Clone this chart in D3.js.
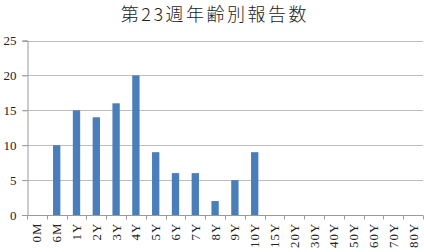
<!DOCTYPE html>
<html>
<head>
<meta charset="utf-8">
<script src="https://cdn.jsdelivr.net/npm/d3@7"></script>
<style>
  body { margin: 0; background: #fff; }
  svg { display: block; }
</style>
</head>
<body>
<div id="chart"></div>
<script>
var title = "第23週年齢別報告数";
var ages = ["0M", "6M", "1Y", "2Y", "3Y", "4Y", "5Y", "6Y", "7Y", "8Y", "9Y", "10Y",
            "15Y", "20Y", "30Y", "40Y", "50Y", "60Y", "70Y", "80Y"];
var reports = [0, 10, 15, 14, 16, 20, 9, 6, 6, 2, 5, 9, 0, 0, 0, 0, 0, 0, 0, 0];
var yTicks = [0, 5, 10, 15, 20, 25];

var width = 424, height = 252;
var m = { top: 40.5, right: 1, bottom: 37, left: 27 };
var serif = "'Liberation Serif', 'DejaVu Serif', serif";

var svg = d3.select("#chart").append("svg")
  .attr("width", width)
  .attr("height", height);

var x = d3.scaleBand()
  .domain(ages)
  .range([m.left, width - m.right])
  .paddingInner(0.63)
  .paddingOuter(0.315);

var y = d3.scaleLinear()
  .domain([0, 25])
  .range([height - m.bottom, m.top]);

// title
svg.append("text")
  .attr("x", 215)
  .attr("y", 21)
  .attr("text-anchor", "middle")
  .style("font-family", "'Noto Sans CJK JP', sans-serif")
  .style("font-size", "18px")
  .style("font-weight", "300")
  .style("letter-spacing", "2.5px")
  .style("fill", "#222")
  .text(title);

// gridlines
svg.append("g")
  .selectAll("line")
  .data(yTicks.filter(function(d) { return d > 0; }))
  .enter().append("line")
  .attr("x1", m.left - 5)
  .attr("x2", width - m.right)
  .attr("y1", function(d) { return Math.round(y(d)) + 0.5; })
  .attr("y2", function(d) { return Math.round(y(d)) + 0.5; })
  .style("stroke", "#bdbdbd")
  .style("stroke-width", 1);

// bars
svg.append("g")
  .selectAll("rect")
  .data(ages)
  .enter().append("rect")
  .attr("x", function(d) { return x(d); })
  .attr("y", function(d, i) { return y(reports[i]); })
  .attr("width", x.bandwidth())
  .attr("height", function(d, i) { return y(0) - y(reports[i]); })
  .style("fill", "#4a7ebb");

// y axis
var yAxis = svg.append("g")
  .attr("transform", "translate(" + (m.left + 0.5) + ",0)")
  .call(d3.axisLeft(y).tickValues(yTicks).tickSize(5).tickPadding(6));
yAxis.attr("font-family", null).attr("font-size", null);
yAxis.select(".domain").attr("stroke", "#9a9a9a");
yAxis.selectAll(".tick line").attr("stroke", "#9a9a9a");
yAxis.selectAll("text")
  .style("font-family", serif)
  .style("font-size", "13px")
  .style("fill", "#222");

// x axis: ticks between categories
var xg = svg.append("g")
  .attr("transform", "translate(0," + (Math.round(y(0)) + 0.5) + ")");
xg.append("line")
  .attr("x1", m.left - 5)
  .attr("x2", width - m.right)
  .style("stroke", "#9a9a9a");
var step = x.step();
xg.selectAll(".sep")
  .data(d3.range(ages.length + 1))
  .enter().append("line")
  .attr("class", "sep")
  .attr("x1", function(i) { return Math.round(m.left + i * step) + 0.5; })
  .attr("x2", function(i) { return Math.round(m.left + i * step) + 0.5; })
  .attr("y1", 0)
  .attr("y2", 4)
  .style("stroke", "#9a9a9a");
xg.selectAll(".lbl")
  .data(ages)
  .enter().append("text")
  .attr("class", "lbl")
  .attr("transform", function(d) {
    return "translate(" + (x(d) + x.bandwidth() / 2 + 4.5) + ",7) rotate(-90)";
  })
  .attr("text-anchor", "end")
  .style("font-family", serif)
  .style("font-size", "13px")
  .style("letter-spacing", "1px")
  .style("fill", "#222")
  .text(function(d) { return d; });
</script>
</body>
</html>
